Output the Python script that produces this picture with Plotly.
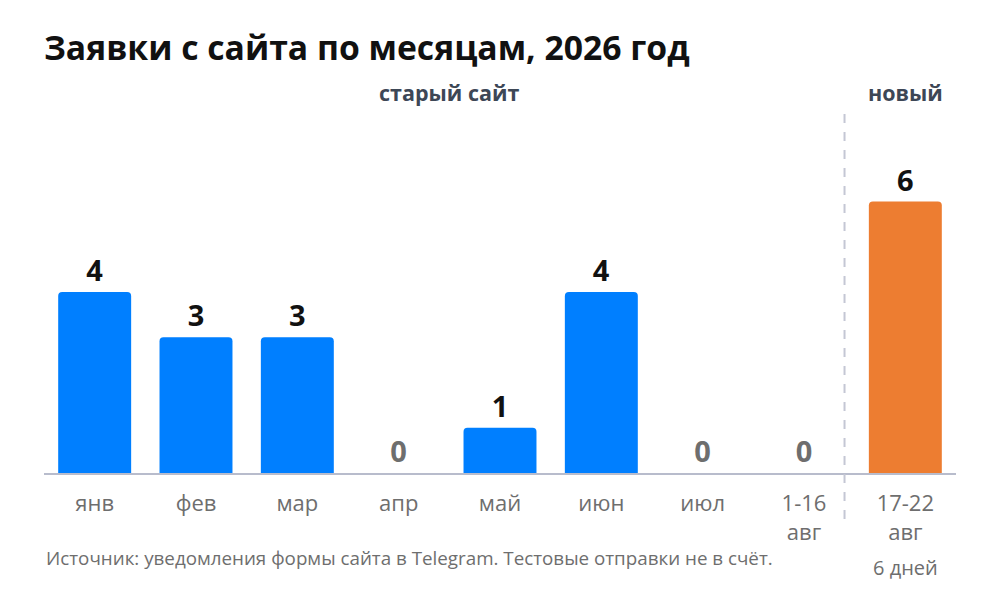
import plotly.graph_objects as go

# Данные
months = ['янв', 'фев', 'мар', 'апр', 'май', 'июн', 'июл', '1-16 авг', '17-22 авг']
tick_labels = ['янв', 'фев', 'мар', 'апр', 'май', 'июн', 'июл', '1-16<br>авг', '17-22<br>авг']
requests = [4, 3, 3, 0, 1, 4, 0, 0, 6]
site = ['old', 'old', 'old', 'old', 'old', 'old', 'old', 'old', 'new']

BLUE = '#007FFF'
ORANGE = '#ED7D31'
FONT = 'Open Sans'

bar_colors = [ORANGE if s == 'new' else BLUE for s in site]
label_colors = ['#6e6e6e' if v == 0 else '#111111' for v in requests]

fig = go.Figure()
fig.add_trace(go.Bar(
    x=months, y=requests,
    marker=dict(color=bar_colors, cornerradius=4, line=dict(width=0)),
    width=0.72,
    text=[str(v) for v in requests],
    textposition='outside',
    textfont=dict(family=FONT, size=29, color=label_colors, weight='bold'),
    cliponaxis=False,
    hoverinfo='skip',
))

# разделитель старый / новый сайт
fig.add_shape(type='line', xref='x', yref='paper', x0=7.4, x1=7.4, y0=-0.127, y1=1.005,
              line=dict(color='#c4c7d4', width=2, dash='dash'))

fig.add_annotation(x=3.5, xref='x', y=1.05, yref='paper', yanchor='middle', text='старый сайт',
                   showarrow=False, font=dict(family=FONT, size=21.5, color='#3d4756', weight='bold'))
fig.add_annotation(x=8, xref='x', y=1.05, yref='paper', yanchor='middle', text='новый',
                   showarrow=False, font=dict(family=FONT, size=21.5, color='#3d4756', weight='bold'))
fig.add_annotation(x=8, xref='x', y=-0.262, yref='paper', yanchor='middle', text='6 дней',
                   showarrow=False, font=dict(family=FONT, size=20, color='#6e6e6e'))
fig.add_annotation(x=0, xref='paper', xanchor='left', y=-0.235, yref='paper', yanchor='middle',
                   text='Источник: уведомления формы сайта в Telegram. Тестовые отправки не в счёт.',
                   showarrow=False, font=dict(family=FONT, size=18.8, color='#6e6e6e'))

fig.update_layout(
    width=1000, height=590,
    paper_bgcolor='white', plot_bgcolor='white',
    margin=dict(l=36, r=52, t=103, b=125),
    title=dict(text='Заявки с сайта по месяцам, 2026 год', x=0.036, xanchor='left',
               y=0.932, yanchor='middle',
               font=dict(family=FONT, size=33.7, color='#111111', weight='bold')),
    showlegend=False,
    bargap=0.28,
    xaxis=dict(tickmode='array', tickvals=months, ticktext=tick_labels,
               tickfont=dict(family=FONT, size=22, color='#6e6e6e'),
               ticklabelstandoff=10,
               showline=True, linecolor='#b8bccc', linewidth=2, ticks='',
               showgrid=False, fixedrange=True),
    yaxis=dict(range=[0, 8], visible=False, showgrid=False, fixedrange=True),
)

fig.write_html("out.html")
